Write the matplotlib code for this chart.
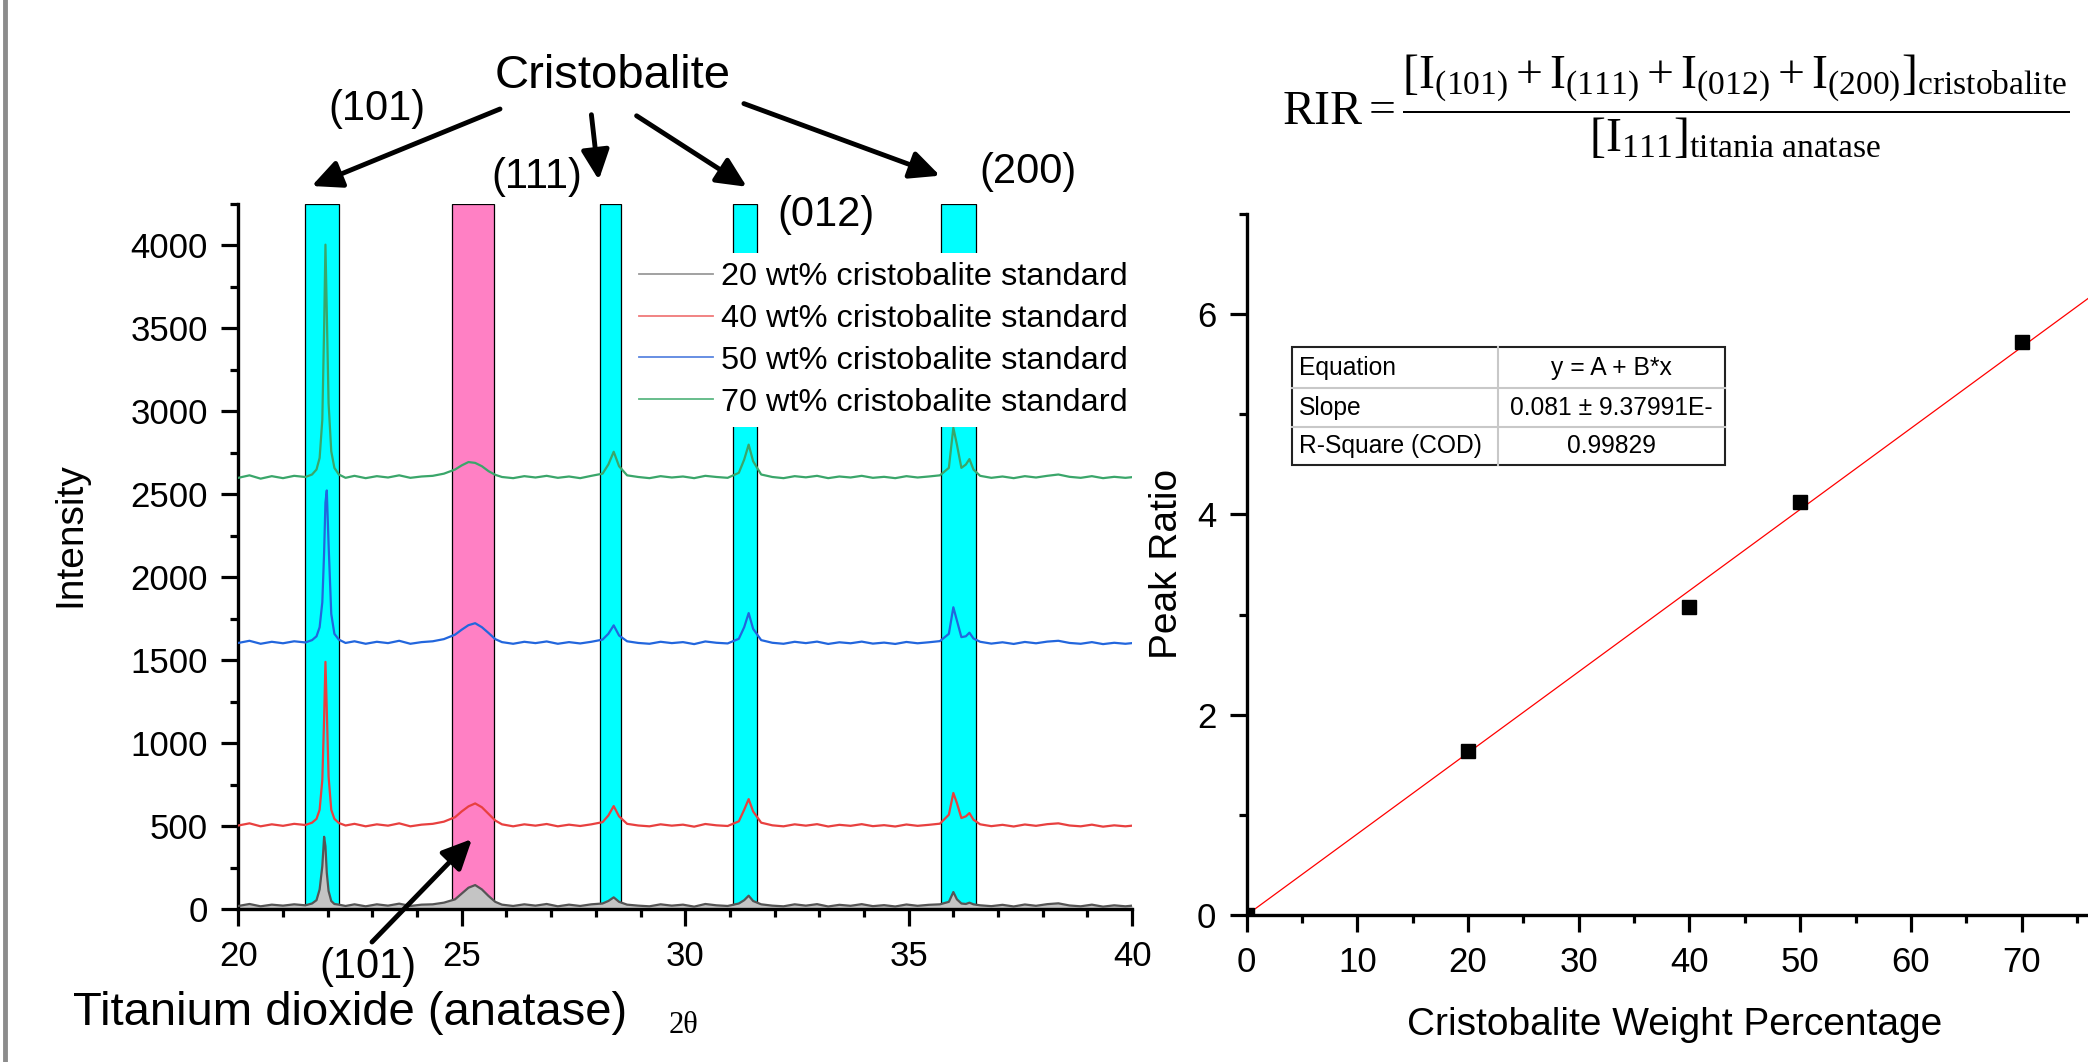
import numpy as np
import matplotlib
matplotlib.use('Agg')
import matplotlib.pyplot as plt
from matplotlib.lines import Line2D
from matplotlib.patches import FancyArrowPatch, Rectangle

plt.rcParams['font.family'] = 'Liberation Sans'
plt.rcParams['mathtext.fontset'] = 'custom'
plt.rcParams['mathtext.rm'] = 'Liberation Serif'
plt.rcParams['mathtext.it'] = 'Liberation Serif:italic'

# ---- XRD patterns (2 theta grid and intensities)
two_theta = [20.0, 20.25, 20.5, 20.75, 21.0, 21.25, 21.5, 21.65, 21.75, 21.82,
             21.88, 21.92, 21.95, 21.98, 22.02, 22.08, 22.15, 22.25, 22.4, 22.6,
             22.85, 23.1, 23.35, 23.6, 23.85, 24.1, 24.35, 24.6, 24.85, 25.0,
             25.15, 25.3, 25.45, 25.6, 25.75, 25.9, 26.15, 26.4, 26.65, 26.9,
             27.15, 27.4, 27.65, 27.9, 28.15, 28.28, 28.4, 28.52, 28.7, 28.95,
             29.2, 29.45, 29.7, 29.95, 30.2, 30.45, 30.7, 30.95, 31.2, 31.32,
             31.42, 31.52, 31.7, 31.95, 32.2, 32.45, 32.7, 32.95, 33.2, 33.45,
             33.7, 33.95, 34.2, 34.45, 34.7, 34.95, 35.2, 35.45, 35.7, 35.9,
             36.0, 36.08, 36.18, 36.28, 36.36, 36.45, 36.6, 36.85, 37.1, 37.35,
             37.6, 37.85, 38.1, 38.35, 38.6, 38.85, 39.1, 39.35, 39.6, 39.85, 40.0]

wt20 = [20, 32, 18, 28, 22, 30, 24, 35, 55, 120,
        260, 437, 380, 220, 110, 50, 32, 28, 20, 30,
        18, 30, 22, 34, 20, 28, 30, 40, 60, 95,
        130, 146, 120, 80, 45, 28, 20, 30, 22, 32,
        18, 28, 20, 30, 35, 50, 72, 45, 28, 22,
        18, 30, 22, 28, 16, 32, 24, 20, 35, 55,
        82, 50, 30, 22, 18, 30, 22, 31, 17, 27,
        21, 31, 19, 25, 17, 29, 21, 27, 30, 45,
        104, 60, 35, 32, 40, 30, 24, 19, 27, 17,
        29, 21, 31, 36, 23, 18, 28, 16, 24, 18, 22]

wt40 = [505, 518, 500, 512, 503, 515, 508, 522, 545, 600,
        780, 1150, 1491, 1200, 800, 600, 545, 520, 505, 515,
        500, 512, 504, 518, 500, 510, 515, 528, 555, 590,
        620, 638, 615, 575, 535, 512, 500, 512, 504, 514,
        500, 510, 502, 512, 525, 565, 622, 560, 515, 505,
        500, 512, 504, 510, 498, 514, 506, 502, 530, 600,
        664, 590, 522, 506, 500, 512, 504, 513, 499, 509,
        503, 513, 501, 507, 499, 511, 503, 509, 516, 570,
        701, 640, 550, 560, 580, 540, 512, 501, 509, 499,
        511, 503, 513, 518, 505, 500, 510, 498, 506, 500, 504]

wt50 = [1605, 1618, 1600, 1612, 1603, 1615, 1608, 1622, 1645, 1700,
        1850, 2150, 2450, 2524, 2200, 1780, 1660, 1625, 1605, 1615,
        1600, 1612, 1604, 1618, 1600, 1610, 1615, 1628, 1655, 1685,
        1712, 1724, 1700, 1665, 1628, 1610, 1600, 1612, 1604, 1614,
        1600, 1610, 1602, 1612, 1625, 1660, 1711, 1650, 1615, 1605,
        1600, 1612, 1604, 1610, 1598, 1614, 1606, 1602, 1630, 1700,
        1785, 1690, 1622, 1606, 1600, 1612, 1604, 1613, 1599, 1609,
        1603, 1613, 1601, 1607, 1599, 1611, 1603, 1609, 1616, 1660,
        1820, 1740, 1640, 1645, 1667, 1632, 1612, 1601, 1609, 1599,
        1611, 1603, 1613, 1618, 1605, 1600, 1610, 1598, 1606, 1600, 1604]

wt70 = [2600, 2615, 2595, 2610, 2598, 2612, 2605, 2620, 2650, 2720,
        2950, 3500, 4005, 3600, 3050, 2760, 2660, 2620, 2600, 2612,
        2598, 2610, 2602, 2615, 2600, 2608, 2612, 2625, 2650, 2675,
        2695, 2690, 2670, 2640, 2618, 2605, 2598, 2610, 2602, 2612,
        2600, 2608, 2598, 2612, 2625, 2680, 2757, 2670, 2615, 2605,
        2598, 2610, 2602, 2608, 2598, 2612, 2605, 2600, 2630, 2710,
        2800, 2700, 2620, 2605, 2598, 2610, 2603, 2612, 2598, 2608,
        2602, 2612, 2600, 2606, 2598, 2610, 2602, 2608, 2615, 2660,
        2902, 2800, 2660, 2680, 2713, 2650, 2612, 2600, 2608, 2598,
        2610, 2602, 2612, 2620, 2606, 2600, 2610, 2598, 2606, 2600, 2604]

series_labels = ['20 wt% cristobalite standard', '40 wt% cristobalite standard',
                 '50 wt% cristobalite standard', '70 wt% cristobalite standard']

# highlighted 2 theta windows (start, end)
cristobalite_windows = [(21.49, 22.25), (28.09, 28.56), (31.06, 31.61), (35.72, 36.51)]
anatase_window = (24.78, 25.73)

# ---- peak ratio calibration
cristobalite_wt = [0, 20, 40, 50, 70]
peak_ratio = [0.0, 1.64, 3.08, 4.12, 5.72]
fit_slope = 0.081
fit_intercept = 0.0
fit_table = [('Equation', 'y = A + B*x'),
             ('Slope', '0.081 \u00b1 9.37991E-'),
             ('R-Square (COD)', '0.99829')]

W, H = 2088, 1062
def fx(px):
    return px / W
def fy(py):
    return 1 - py / H

fig = plt.figure(figsize=(W / 100, H / 100), dpi=100)

tick_kw = dict(direction='out', labelsize=25, width=2.3, pad=10)

# ---------------- left panel
ax1 = fig.add_axes([fx(238.3), fy(909.3), (1132.1 - 238.3) / W, (909.3 - 204) / H])
for (a, b) in cristobalite_windows:
    ax1.bar(a, 4250, width=b - a, align='edge', color='#00ffff',
            edgecolor='black', linewidth=0.9, zorder=1)
ax1.bar(anatase_window[0], 4250, width=anatase_window[1] - anatase_window[0],
        align='edge', color='#ff80c4', edgecolor='black', linewidth=0.9, zorder=1)

ax1.fill_between(two_theta, 0, wt20, color='#c4c4c4', lw=0, zorder=2)
ax1.plot(two_theta, wt20, color='#555555', lw=1.6, zorder=3)
ax1.plot(two_theta, wt40, color='#e8403f', lw=1.6, zorder=3)
ax1.plot(two_theta, wt50, color='#2266dd', lw=1.6, zorder=3)
ax1.plot(two_theta, wt70, color='#3aa66a', lw=1.6, zorder=3)

ax1.set_xlim(20, 40)
ax1.set_ylim(0, 4250)
ax1.set_xticks([20, 25, 30, 35, 40])
ax1.set_xticks(np.arange(20, 41, 1), minor=True)
ax1.set_yticks(np.arange(0, 4001, 500))
ax1.set_yticks(np.arange(0, 4251, 250), minor=True)
ax1.tick_params(which='major', length=12, **tick_kw)
ax1.tick_params(which='minor', length=6, direction='out', width=2.3)
for s in ['top', 'right']:
    ax1.spines[s].set_visible(False)
for s in ['left', 'bottom']:
    ax1.spines[s].set_linewidth(2.4)

handles = [Line2D([], [], color=c, lw=1.3)
           for c in ['#9a9a9a', '#f07a7a', '#5a86e0', '#5cb882']]
ax1.legend(handles, series_labels, loc='upper left',
           bbox_to_anchor=(fx(630), fy(253)), bbox_transform=fig.transFigure,
           frameon=True, fancybox=False, edgecolor='none', facecolor='white',
           framealpha=1, fontsize=23.4, handlelength=2.25, handletextpad=0.27,
           labelspacing=0.36, borderpad=0.29, borderaxespad=0)

# ---------------- right panel
ax2 = fig.add_axes([fx(1246.7), fy(915), 856.8 / W, (915 - 214) / H])
ax2.plot([0, 77.4], [fit_intercept, fit_intercept + fit_slope * 77.4],
         color='red', lw=0.9, zorder=2)
ax2.plot(cristobalite_wt, peak_ratio, 's', color='black', ms=10, zorder=3)
ax2.set_xlim(0, 77.4)
ax2.set_ylim(0, 7)
ax2.set_xticks(np.arange(0, 71, 10))
ax2.set_xticks(np.arange(0, 78, 5), minor=True)
ax2.set_yticks([0, 2, 4, 6])
ax2.set_yticks([1, 3, 5, 7], minor=True)
ax2.tick_params(which='major', length=12, **tick_kw)
ax2.tick_params(which='minor', length=6, direction='out', width=2.3)
for s in ['top', 'right']:
    ax2.spines[s].set_visible(False)
for s in ['left', 'bottom']:
    ax2.spines[s].set_linewidth(2.4)

# fit table
tx0, tx1, tx2 = 1292, 1498, 1725
ty = [347, 388, 427, 465]
for ln_y in ty[1:3]:
    fig.add_artist(Line2D([fx(tx0), fx(tx2)], [fy(ln_y), fy(ln_y)], color='#c8c8c8', lw=1.5))
fig.add_artist(Line2D([fx(tx1), fx(tx1)], [fy(ty[0]), fy(ty[3])], color='#c8c8c8', lw=1.5))
fig.add_artist(Rectangle((fx(tx0), fy(ty[3])), (tx2 - tx0) / W, (ty[3] - ty[0]) / H,
                         fill=False, edgecolor='#222222', lw=1.5, transform=fig.transFigure))
for i, (k, v) in enumerate(fit_table):
    yc = (ty[i] + ty[i + 1]) / 2
    fig.text(fx(tx0 + 7), fy(yc), k, fontsize=17.7, ha='left', va='center')
    fig.text(fx((tx1 + tx2) / 2), fy(yc), v, fontsize=17.7, ha='center', va='center')

# ---------------- labels and annotations
fig.text(fx(70), fy(535), 'Intensity', rotation=90, fontsize=28, ha='center', va='center')
fig.text(fx(1167), fy(564), 'Peak Ratio', rotation=90, fontsize=28, ha='center', va='center')
fig.text(fx(1674.5), fy(1035), 'Cristobalite Weight Percentage', fontsize=28,
         ha='center', va='baseline')
fig.text(fx(684), fy(1033), '2\u03b8', fontsize=22, family='Liberation Serif',
         ha='center', va='baseline')

fig.text(fx(613), fy(88), 'Cristobalite', fontsize=34, ha='center', va='baseline')
fig.text(fx(73), fy(1025), 'Titanium dioxide (anatase)', fontsize=34, ha='left', va='baseline')
for lab, cx, by in [('(101)', 376.5, 120), ('(111)', 536.5, 188), ('(012)', 826, 226),
                    ('(200)', 1028.5, 183), ('(101)', 367.5, 978)]:
    fig.text(fx(cx), fy(by), lab, fontsize=30, ha='center', va='baseline')

arrows = [((500, 109), (311.7, 186)), ((591.4, 114.7), (598.8, 180)),
          ((636.6, 115.8), (746.8, 186.8)), ((743.9, 103.6), (940, 175.7)),
          ((372, 942), (472, 839))]
for (p0, p1) in arrows:
    fig.add_artist(FancyArrowPatch((fx(p0[0]), fy(p0[1])), (fx(p1[0]), fy(p1[1])),
                                   transform=fig.transFigure,
                                   arrowstyle='-|>,head_length=1.8,head_width=0.85',
                                   mutation_scale=10, lw=3.5, color='black',
                                   shrinkA=0, shrinkB=0))

eq = (r'$\mathrm{RIR} = \dfrac{[\mathrm{I}_{(101)} + \mathrm{I}_{(111)} + \mathrm{I}_{(012)}'
      r' + \mathrm{I}_{(200)}]_{\mathrm{cristobalite}}}{[\mathrm{I}_{111}]_{\mathrm{titania\ anatase}}}$')
fig.text(fx(2069), fy(107), eq, fontsize=34.5, ha='right', va='center')

# grey frame line at the left edge
fig.add_artist(Line2D([fx(5), fx(5)], [0, 1], color='#8c8c8c', lw=3.5))

fig.savefig('out.png', dpi=100)
